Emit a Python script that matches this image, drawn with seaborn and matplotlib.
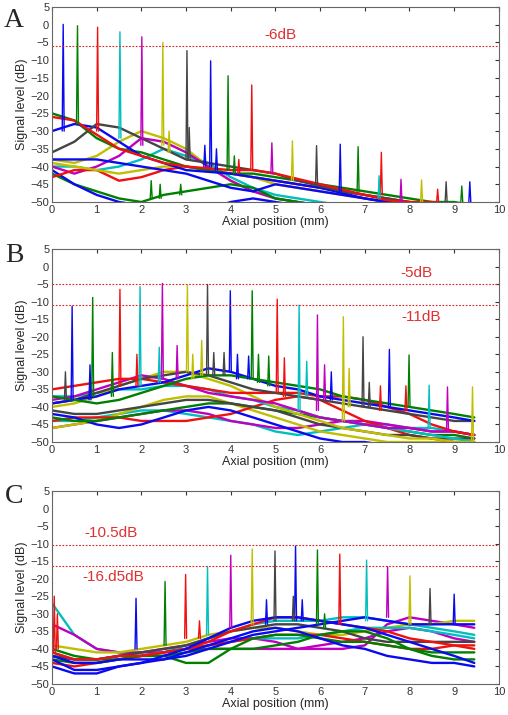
import pandas as pd
import seaborn as sns
import matplotlib.pyplot as plt

# shared axial grid (mm) for the background traces
X_GRID = [0, 0.5, 1, 1.5, 2, 2.5, 3, 3.5, 4, 4.5, 5, 5.5, 6, 6.5, 7, 7.5,
          8, 8.5, 9, 9.45]

COLORS = {'b': '#0a0aee', 'g': '#008000', 'r': '#f01010', 'c': '#00bfbf',
          'm': '#bf00bf', 'y': '#bfbf00', 'k': '#454545'}

# panel A background traces (dB at X_GRID)
A_TRACES = [
    ('c', [-40, -40, -41, -40, -38, -35, -37, -39, -43, -46, -48, -49, -50, -51, -52, -52, -52, -52, -52, -52]),
    ('y', [-38, -39, -37, -33, -30, -32, -35, -40, -44, -47, -49, -50, -51, -52, -52, -52, -52, -52, -52, -52]),
    ('m', [-40, -42, -40, -37, -32, -33, -36, -40, -44, -47, -49, -50, -51, -52, -52, -52, -52, -52, -52, -52]),
    ('g', [-42, -45, -47, -49, -50, -48, -47, -46, -45, -46, -49, -50, -51, -52, -52, -52, -52, -52, -52, -52]),
    ('b', [-41, -45, -48, -50, -51, -52, -52, -52, -50, -49, -50, -51, -52, -52, -52, -52, -52, -52, -52, -52]),
    ('r', [-43, -41, -41, -44, -43, -41, -40, -41, -42, -43, -44, -45, -46, -47, -48, -49, -50, -51, -52, -52]),
    ('y', [-39, -40, -41, -42, -41, -40, -40, -41, -42, -43, -45, -46, -47, -48, -49, -50, -51, -52, -52, -52]),
    ('b', [-38, -38, -38, -39, -40, -41, -42, -44, -46, -47, -45, -46, -47, -48, -49, -50, -51, -52, -52, -52]),
    ('g', [-25, -27, -32, -35, -36, -38, -40, -41, -42, -42, -43, -44, -45, -46, -47, -48, -49, -50, -50, -51]),
    ('b', [-30, -28, -29, -33, -37, -39, -41, -41.5, -42, -43, -44, -45, -46, -47.5, -49, -50, -51, -52, -52, -52]),
    ('k', [-36, -33, -28, -29, -32, -35, -38, -39, -40, -41, -42, -44, -45.5, -47, -48, -49, -50, -51, -52, -52]),
    ('r', [-26, -27, -31, -35, -37, -39, -40, -40.5, -41, -41, -42, -43.5, -45, -46.5, -48, -49.5, -50, -50, -51, -52]),
]

# panel A peaks: (position mm, top dB, base dB, colour)
A_PEAKS = [
    (0.25, 0.1, -30, 'b'), (0.57, -0.3, -28, 'g'), (1.02, -0.7, -30, 'r'),
    (1.52, -2.0, -32, 'c'), (2.01, -3.4, -34, 'm'), (2.48, -5.0, -34, 'y'),
    (3.02, -7.3, -38, 'k'), (3.55, -10.2, -40, 'b'), (3.94, -14.4, -41, 'g'),
    (4.47, -17.0, -41, 'r'), (4.92, -33.3, -42, 'm'), (5.38, -32.8, -44, 'y'),
    (5.92, -34.1, -45, 'k'), (6.45, -33.7, -47, 'b'), (6.85, -34.4, -47, 'g'),
    (7.37, -36.0, -48, 'r'), (7.32, -42.6, -49, 'c'), (7.81, -43.6, -50, 'm'),
    (8.27, -43.8, -50, 'y'), (8.63, -46.4, -50, 'r'), (8.82, -44.3, -50, 'k'),
    (9.17, -45.5, -50, 'g'), (9.35, -44.3, -50, 'b'),
    (2.62, -30, -36, 'y'), (3.07, -29, -38, 'k'), (3.42, -34, -40, 'b'),
    (3.68, -35, -41, 'b'), (4.08, -37, -42, 'g'), (4.18, -38, -42, 'r'),
    (2.22, -44, -49, 'g'), (2.42, -45, -49, 'g'), (2.88, -45, -48, 'g'),
]

B_TRACES = [
    ('c', [-44, -44, -43, -42, -41, -41, -42, -43, -44, -45, -47, -48, -47, -46, -45, -45, -46, -46, -47, -48]),
    ('m', [-46, -45, -44, -43, -42, -41, -41, -42, -44, -45, -46, -46, -45, -44, -44, -45, -46, -47, -47, -48]),
    ('y', [-46, -45, -44, -42, -40, -38, -37, -37, -39, -41, -43, -45, -47, -48, -49, -50, -50, -50, -50, -50]),
    ('r', [-44, -43, -43, -43, -44, -44, -44, -43, -42, -40, -38, -37, -38, -41, -44, -46, -48, -49, -50, -50]),
    ('b', [-42, -43, -45, -46, -45, -43, -41, -40, -41, -43, -45, -47, -49, -50, -50, -51, -51, -51, -51, -51]),
    ('g', [-43, -44, -44, -43, -42, -41, -40, -39, -39, -40, -41, -42, -43, -44, -45, -46, -47, -48, -48, -49]),
    ('k', [-41, -42, -42, -41, -40, -39, -38, -38, -39, -40, -41, -43, -45, -46, -47, -48, -48, -49, -49, -49]),
    ('c', [-37, -37, -36, -35, -35, -34, -34, -35, -37, -38, -40, -41, -43, -44, -45, -46, -47, -48, -49, -50]),
    ('y', [-40, -39, -37, -34, -32, -30, -30, -32, -34, -37, -40, -42, -44, -46, -47, -48, -49, -49, -50, -50]),
    ('m', [-38, -37, -35, -33, -31, -32, -34, -36, -37, -38, -39, -41, -43, -44, -45, -46, -46, -47, -47, -48]),
    ('r', [-35, -34, -33, -32, -32, -33, -34, -35, -36, -36, -36, -36, -37, -37, -38, -40, -42, -45, -47, -48]),
    ('k', [-39, -38, -36, -34, -32, -31, -30, -31, -33, -35, -36, -37, -38, -39, -40, -41, -42, -43, -44, -44]),
    ('b', [-39, -38, -37, -35, -34, -33, -31, -29, -30, -32, -34, -35, -37, -38, -39, -40, -41, -42, -43, -44]),
    ('g', [-37, -38, -39, -38, -36, -34, -32, -31, -31, -32, -33, -34, -35, -37, -38, -39, -40, -41, -42, -43]),
]

B_PEAKS = [
    (0.45, -11.3, -38, 'b'), (0.91, -8.8, -37, 'g'), (1.52, -6.5, -34, 'r'),
    (1.97, -5.7, -34, 'c'), (2.47, -4.8, -32, 'm'), (3.03, -5.3, -30, 'y'),
    (3.48, -5.1, -31, 'k'), (3.99, -6.9, -30, 'b'), (4.48, -6.9, -32, 'g'),
    (5.04, -9.3, -36, 'r'), (5.53, -11.0, -41, 'c'), (5.94, -13.8, -41, 'm'),
    (6.52, -14.3, -44, 'y'), (6.96, -20.0, -40, 'k'), (7.55, -23.6, -40, 'b'),
    (7.99, -25.2, -40, 'g'), (8.44, -33.8, -46, 'c'), (8.85, -34.3, -47, 'm'),
    (9.41, -34.3, -50, 'y'),
    (0.30, -30, -38, 'k'), (0.85, -28, -38, 'b'), (1.35, -24.5, -37, 'g'),
    (1.90, -25, -34, 'r'), (2.40, -23, -33, 'c'), (2.80, -22.5, -32, 'm'),
    (3.15, -25, -32, 'y'), (3.35, -21, -31, 'y'), (3.62, -24.5, -31, 'k'),
    (3.85, -24.5, -31, 'k'), (4.15, -25, -32, 'b'), (4.40, -25.5, -32, 'b'),
    (4.62, -25, -33, 'g'), (4.85, -25.5, -34, 'g'), (5.20, -26, -37, 'r'),
    (5.70, -27, -37, 'c'), (6.10, -28, -38, 'm'), (6.25, -30, -38, 'b'),
    (6.65, -29, -40, 'y'), (7.10, -33, -40, 'k'), (7.35, -34, -41, 'r'),
    (7.92, -34, -41, 'r'),
]

C_TRACES = [
    ('c', [-27, -36, -40, -41, -42, -41, -39, -37, -35, -33, -32, -32, -32, -31, -31, -32, -33, -34, -35, -36]),
    ('m', [-33, -36, -40, -41, -41, -40, -39, -38, -37, -37, -38, -40, -40, -40, -39, -33, -31, -32, -33, -34]),
    ('y', [-39, -40, -41, -41, -40, -39, -38, -36, -35, -34, -34, -35, -36, -36, -35, -34, -33, -33, -32, -32]),
    ('m', [-42, -43, -43, -42, -41, -41, -40, -40, -40, -40, -40, -40, -39, -38, -37, -35, -34, -35, -37, -38]),
    ('c', [-41, -43, -43, -42, -42, -41, -40, -39, -38, -37, -37, -37, -36, -35, -34, -34, -34, -35, -36, -37]),
    ('k', [-42, -43, -43, -42, -41, -40, -39, -37, -35, -34, -33, -33, -34, -35, -37, -38, -38, -38, -38, -38]),
    ('r', [-44, -45, -44, -43, -42, -41, -40, -39, -38, -37, -36, -36, -36, -37, -38, -39, -40, -40, -39, -39]),
    ('g', [-43, -44, -44, -43, -42, -42, -41, -40, -40, -40, -39, -38, -36, -35, -35, -37, -40, -42, -43, -43]),
    ('g', [-40, -42, -43, -43, -42, -42, -44, -44, -40, -37, -36, -36, -37, -38, -38, -39, -40, -41, -41, -41]),
    ('r', [-41, -43, -43, -42, -42, -41, -40, -38, -35, -33, -31, -31, -32, -33, -34, -35, -37, -38, -39, -40]),
    ('b', [-42, -44, -44, -43, -43, -43, -42, -40, -38, -36, -35, -34, -33, -32, -31, -32, -33, -33, -33, -33]),
    ('b', [-45, -47, -47, -45, -44, -42, -40, -37, -34, -32, -31, -31, -32, -33, -34, -36, -38, -40, -42, -44]),
    ('b', [-43, -46, -46, -45, -44, -43, -41, -39, -37, -35, -34, -35, -37, -39, -40, -42, -43, -44, -44, -45]),
]

C_PEAKS = [
    (1.88, -25.6, -40, 'b'), (2.53, -20.8, -39, 'g'), (2.99, -18.8, -37, 'r'),
    (3.48, -16.6, -36, 'c'), (4.00, -13.3, -34, 'm'), (4.48, -11.5, -33, 'y'),
    (4.99, -12.1, -32, 'k'), (5.45, -10.7, -32, 'b'), (5.94, -11.8, -33, 'g'),
    (6.44, -13.0, -33, 'r'), (7.04, -14.7, -32, 'c'), (7.51, -16.6, -31, 'm'),
    (8.01, -19.2, -33, 'y'), (8.46, -22.8, -33, 'k'), (9.00, -24.4, -33, 'b'),
    (4.80, -26, -33, 'b'), (5.40, -25, -32, 'k'), (5.60, -26, -32, 'b'),
    (6.10, -30, -34, 'g'), (3.30, -32, -37, 'r'), (0.05, -25, -41, 'r'),
    (0.12, -30, -40, 'r'),
]

A_LINES = [-6]
B_LINES = [-5, -11]
C_LINES = [-10.5, -16.5]
A_NOTES = [(5.12, -2.9, '-6dB')]
B_NOTES = [(8.16, -1.9, '-5dB'), (8.25, -14.5, '-11dB')]
C_NOTES = [(1.31, -7.1, '-10.5dB'), (1.37, -19.6, '-16.d5dB')]

PEAK_HALF = 0.022


def draw_panel(ax, traces, peaks, lines, notes):
    '''
    Draws the background traces, the reflection peaks and the red
    threshold lines of one panel.
    '''
    for color, values in traces:
        sns.lineplot(x=X_GRID, y=values, ax=ax, color=COLORS[color],
                     lw=1.7, estimator=None, sort=False)
    for pos, top, base, color in peaks:
        sns.lineplot(x=[pos - PEAK_HALF, pos, pos + PEAK_HALF],
                     y=[base, top, base], ax=ax, color=COLORS[color],
                     lw=1.0, estimator=None, sort=False)
    for level in lines:
        ax.axhline(level, color='#e02020', lw=0.8, ls=(0, (1.5, 1.5)))
    for x, y, txt in notes:
        ax.text(x, y, txt, color='#e03030', fontsize=11, ha='center',
                va='center')
    ax.set_xlim(0, 10)
    ax.set_ylim(-50, 5)
    ax.set_xticks(range(0, 11))
    ax.set_yticks(range(-50, 6, 5))
    ax.tick_params(direction='in', top=True, right=True, length=3,
                   labelsize=8, colors='#333333', pad=2)
    for spine in ax.spines.values():
        spine.set_visible(True)
        spine.set_color('#666666')
        spine.set_linewidth(0.8)
    ax.set_xlabel('Axial position (mm)', fontsize=9, labelpad=1)
    ax.set_ylabel('Signal level (dB)', fontsize=9, labelpad=2)


def main():
    sns.set_style('white')
    plt.rcParams['font.family'] = ['Liberation Sans', 'DejaVu Sans']
    fig = plt.figure(figsize=(5.08, 7.15), dpi=100)
    ax_a = fig.add_axes([0.1024, 0.7175, 0.8796, 0.2727])
    ax_b = fig.add_axes([0.1024, 0.3818, 0.8796, 0.2699])
    ax_c = fig.add_axes([0.1024, 0.0434, 0.8796, 0.2699])
    draw_panel(ax_a, A_TRACES, A_PEAKS, A_LINES, A_NOTES)
    draw_panel(ax_b, B_TRACES, B_PEAKS, B_LINES, B_NOTES)
    draw_panel(ax_c, C_TRACES, C_PEAKS, C_LINES, C_NOTES)
    for y, letter in [(0.972, 'A'), (0.643, 'B'), (0.305, 'C')]:
        fig.text(0.028, y, letter, fontsize=20, ha='center', va='center',
                 family='Liberation Serif')
    fig.savefig('out.png', dpi=100)


if __name__ == '__main__':
    main()
